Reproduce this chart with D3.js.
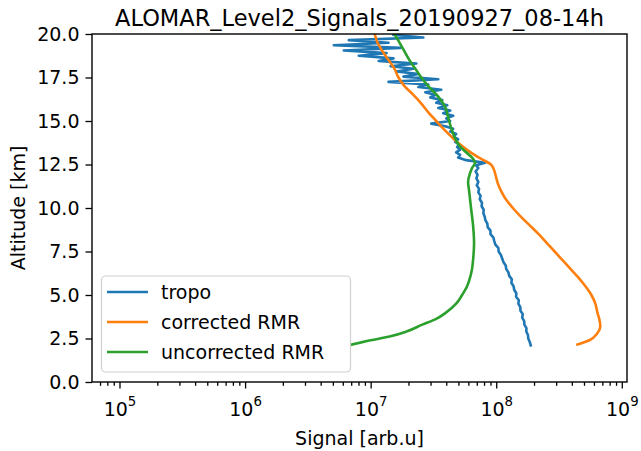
<!DOCTYPE html>
<html>
<head>
<meta charset="utf-8">
<script src="https://cdn.jsdelivr.net/npm/d3@7"></script>
<style>
body { margin: 0; background: #fff; }
text { font-family: "DejaVu Sans", sans-serif; fill: #000; }
</style>
</head>
<body>
<div id="chart"></div>
<script>
// Data: altitude in km, signal in arb. units
var tropoAltitude = [2.1, 2.3, 2.5, 2.7, 2.9, 3.1, 3.3, 3.5, 3.7, 3.9, 4.1, 4.3, 4.5, 4.7, 4.9, 5.1, 5.3, 5.5, 5.7, 5.9,
	6.1, 6.3, 6.5, 6.7, 6.9, 7.1, 7.3, 7.5, 7.7, 7.9, 8.1, 8.3, 8.5, 8.7, 8.9, 9.1, 9.3, 9.5, 9.7, 9.9,
	10.1, 10.3, 10.5, 10.7, 10.9, 11.1, 11.3, 11.5, 11.7, 11.9, 12.1, 12.3, 12.45, 12.6, 12.75,
	12.9, 13.05, 13.2, 13.35, 13.5, 13.65, 13.8, 13.95, 14.1, 14.25, 14.4, 14.55, 14.7, 14.85,
	15.0, 15.15, 15.3, 15.45, 15.6, 15.75, 15.9, 16.05, 16.2, 16.35, 16.5, 16.65, 16.8, 16.95,
	17.1, 17.25, 17.4, 17.55, 17.7, 17.85, 18.0, 18.15, 18.3, 18.45, 18.6, 18.75, 18.9, 19.05,
	19.2, 19.35, 19.5, 19.65, 19.8, 19.95];
var tropoSignal = [1.883e8, 1.849e8, 1.800e8, 1.790e8, 1.735e8, 1.740e8, 1.675e8, 1.670e8, 1.610e8, 1.627e8,
	1.560e8, 1.555e8, 1.500e8, 1.513e8, 1.440e8, 1.445e8, 1.390e8, 1.375e8, 1.320e8, 1.331e8,
	1.270e8, 1.250e8, 1.200e8, 1.190e8, 1.140e8, 1.115e8, 1.090e8, 1.045e8, 1.040e8, 9.85e7,
	9.65e7, 9.50e7, 9.00e7, 9.00e7, 8.55e7, 8.50e7, 8.20e7, 8.10e7, 7.90e7, 7.95e7,
	7.65e7, 7.70e7, 7.40e7, 7.50e7, 7.20e7, 7.30e7, 7.00e7, 7.20e7, 6.95e7, 7.10e7,
	6.85e7, 7.20e7, 6.91e7, 8.14e7, 5.756e7,
	4.975e7, 5.160e7, 4.797e7, 5.160e7, 4.885e7, 5.068e7, 4.710e7, 4.975e7, 4.541e7, 4.797e7,
	4.300e7, 4.541e7, 3.926e7, 3.041e7,
	4.300e7, 3.998e7, 4.541e7, 3.785e7, 4.300e7, 3.455e7, 4.072e7, 3.331e7, 3.717e7, 2.987e7,
	3.270e7, 2.726e7, 3.650e7, 2.399e7,
	2.879e7, 1.388e7, 3.455e7, 1.825e7, 2.399e7, 1.607e7, 2.190e7, 1.440e7, 2.313e7, 1.157e7,
	1.521e7, 8.04e6, 1.339e7, 6.11e6,
	1.728e7, 5.09e6, 1.388e7, 6.70e6, 2.628e7, 1.521e7];

var correctedAltitude = [2.15, 2.4, 2.8, 3.2, 3.6, 4.0, 4.5, 5.0, 5.5, 6.0, 6.5, 7.0, 7.5, 8.0, 8.5, 9.0, 9.5,
	10.0, 10.5, 11.0, 11.4, 11.8, 12.2, 12.5, 12.8, 13.0, 13.3, 13.6, 14.0, 14.5, 15.0, 15.5,
	16.0, 16.5, 17.0, 17.5, 18.0, 18.5, 19.0, 19.5, 20.0];
var correctedSignal = [4.436e8, 5.52e8, 6.386e8, 6.745e8, 6.624e8, 6.386e8, 6.157e8, 5.724e8, 5.131e8, 4.517e8,
	3.904e8, 3.374e8, 2.916e8, 2.520e8, 2.178e8, 1.849e8, 1.569e8, 1.356e8, 1.193e8, 1.090e8,
	1.031e8, 9.95e7, 9.59e7, 9.08e7, 7.71e7, 6.91e7, 5.97e7, 5.254e7, 4.541e7, 3.855e7,
	3.331e7, 2.879e7, 2.534e7, 2.190e7, 1.859e7, 1.666e7, 1.549e7, 1.388e7, 1.245e7, 1.136e7, 1.076e7];

var uncorrectedAltitude = [2.15, 2.4, 2.6, 2.9, 3.3, 3.6, 4.0, 4.5, 5.0, 5.5, 6.0, 6.5, 7.0, 8.0, 9.0, 10.0,
	10.5, 11.0, 11.5, 12.0, 12.3, 12.6, 12.9, 13.2, 13.6, 14.0, 14.6, 15.2, 15.8, 16.4, 17.0,
	17.5, 18.0, 18.5, 19.0, 19.5, 20.0];
var uncorrectedSignal = [7.07e6, 1.0e7, 1.388e7, 1.928e7, 2.581e7, 3.270e7, 3.998e7, 4.797e7, 5.350e7, 5.861e7,
	6.19e7, 6.42e7, 6.54e7, 6.66e7, 6.54e7, 6.30e7, 6.19e7, 6.08e7, 5.97e7, 6.19e7, 6.42e7,
	6.78e7, 6.42e7, 5.756e7, 5.068e7, 4.710e7, 4.378e7, 4.146e7, 3.926e7, 3.455e7, 2.879e7,
	2.534e7, 2.271e7, 2.036e7, 1.859e7, 1.697e7, 1.549e7];

var seriesNames = ["tropo", "corrected RMR", "uncorrected RMR"];
var seriesColors = ["#1f77b4", "#ff7f0e", "#2ca02c"];

var xMajorTicks = [1e5, 1e6, 1e7, 1e8, 1e9];
var xTickExponents = ["5", "6", "7", "8", "9"];
var yTicks = [0, 2.5, 5, 7.5, 10, 12.5, 15, 17.5, 20];

var titleText = "ALOMAR_Level2_Signals_20190927_08-14h";
var xLabelText = "Signal [arb.u]";
var yLabelText = "Altitude [km]";

// layout
var width = 641, height = 451;
var plotLeft = 92, plotRight = 627, plotTop = 34, plotBottom = 382;
var fontSize = 19;

var xScale = d3.scaleLog()
				.domain([6.04e4, 1.1e9])
				.range([plotLeft, plotRight]);

var yScale = d3.scaleLinear()
				.domain([0, 20])
				.range([plotBottom, plotTop]);

var svg = d3.select("#chart").append("svg")
			.attr("width", width)
			.attr("height", height);

svg.append("clipPath")
	.attr("id", "plotclip")
	.append("rect")
		.attr("x", plotLeft)
		.attr("y", plotTop)
		.attr("width", plotRight - plotLeft)
		.attr("height", plotBottom - plotTop);

// series (the two RMR profiles are smooth, tropo is drawn point to point)
var series = [
	{ alt: tropoAltitude, sig: tropoSignal, curve: d3.curveLinear },
	{ alt: correctedAltitude, sig: correctedSignal, curve: d3.curveMonotoneY },
	{ alt: uncorrectedAltitude, sig: uncorrectedSignal, curve: d3.curveMonotoneY }
];

svg.append("g")
	.attr("clip-path", "url(#plotclip)")
	.selectAll("path")
		.data(series)
		.enter().append("path")
			.attr("d", function(s) {
				var line = d3.line()
					.curve(s.curve)
					.x(function(d) { return xScale(d[1]); })
					.y(function(d) { return yScale(d[0]); });
				return line(s.alt.map(function(a, i) { return [a, s.sig[i]]; }));
			})
			.style("fill", "none")
			.style("stroke", function(s, i) { return seriesColors[i]; })
			.style("stroke-width", 2.6)
			.style("stroke-linejoin", "round")
			.style("stroke-linecap", "square");

// minor ticks on the log axis
var minorTicks = [];
[1e4].concat(xMajorTicks).forEach(function(base) {
	for (var k = 2; k < 10; k++) {
		var v = base * k;
		if (v > xScale.domain()[0] && v < xScale.domain()[1]) minorTicks.push(v);
	}
});

svg.append("g")
	.attr("transform", "translate(0," + plotBottom + ")")
	.call(d3.axisBottom(xScale).tickValues(minorTicks).tickSize(3.8).tickFormat(""))
	.call(function(g) { g.select(".domain").remove(); });

var xAxis = svg.append("g")
	.attr("transform", "translate(0," + plotBottom + ")")
	.call(d3.axisBottom(xScale).tickValues(xMajorTicks).tickSize(6.5).tickPadding(9).tickFormat(""))
	.call(function(g) { g.select(".domain").remove(); });

xAxis.selectAll(".tick text")
	.attr("font-size", fontSize)
	.attr("dy", "0.95em")
	.each(function(d, i) {
		var t = d3.select(this);
		t.append("tspan").text("10");
		t.append("tspan")
			.attr("font-size", fontSize * 0.7)
			.attr("dy", "-0.7em")
			.text(xTickExponents[i]);
	});

svg.append("g")
	.attr("transform", "translate(" + plotLeft + ",0)")
	.call(d3.axisLeft(yScale).tickValues(yTicks).tickSize(6.5).tickPadding(6).tickFormat(d3.format(".1f")))
	.call(function(g) { g.select(".domain").remove(); })
	.selectAll("text")
		.attr("font-size", fontSize);

svg.selectAll(".tick line").style("stroke", "#000").style("stroke-width", 1.3);
svg.selectAll(".tick text").style("fill", "#000").style("font-family", "DejaVu Sans");

// frame
svg.append("rect")
	.attr("x", plotLeft)
	.attr("y", plotTop)
	.attr("width", plotRight - plotLeft)
	.attr("height", plotBottom - plotTop)
	.style("fill", "none")
	.style("stroke", "#000")
	.style("stroke-width", 1.4);

// labels
svg.append("text")
	.attr("x", (plotLeft + plotRight) / 2)
	.attr("y", 26)
	.attr("text-anchor", "middle")
	.attr("font-size", 22.5)
	.text(titleText);

svg.append("text")
	.attr("x", (plotLeft + plotRight) / 2)
	.attr("y", 445)
	.attr("text-anchor", "middle")
	.attr("font-size", fontSize)
	.text(xLabelText);

svg.append("text")
	.attr("transform", "translate(25," + ((plotTop + plotBottom) / 2) + ") rotate(-90)")
	.attr("text-anchor", "middle")
	.attr("font-size", fontSize)
	.text(yLabelText);

// legend
var legend = svg.append("g");

legend.append("rect")
	.attr("x", 101.5)
	.attr("y", 276)
	.attr("width", 249)
	.attr("height", 96)
	.attr("rx", 4)
	.style("fill", "#fff")
	.style("fill-opacity", 0.8)
	.style("stroke", "#d0d0d0")
	.style("stroke-width", 1.2);

var legendItems = legend.selectAll(".item")
	.data(seriesNames)
	.enter().append("g")
		.attr("class", "item")
		.attr("transform", function(d, i) {
			return "translate(107," + (292 + i * 30) + ")";
		});

legendItems.append("line")
	.attr("x1", 0)
	.attr("x2", 41)
	.style("stroke", function(d, i) { return seriesColors[i]; })
	.style("stroke-width", 2.6);

legendItems.append("text")
	.attr("x", 54)
	.attr("dy", "0.35em")
	.attr("font-size", fontSize)
	.text(function(d) { return d; });
</script>
</body>
</html>
